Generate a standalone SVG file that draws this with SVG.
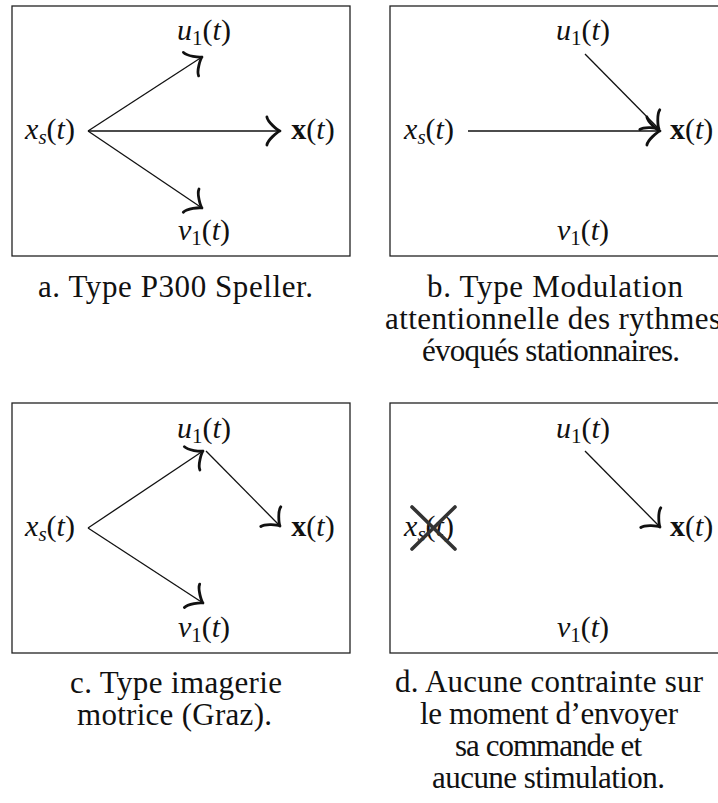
<svg xmlns="http://www.w3.org/2000/svg" width="718" height="803" viewBox="0 0 718 803" font-family="Liberation Serif, Times New Roman, serif">
<style>
.box{fill:none;stroke:#222;stroke-width:1.3}
.m{font-size:30px;fill:#111;text-anchor:middle}
.ms{text-anchor:start}
.i{font-style:italic}
.b{font-weight:bold}
.sub{font-size:21px}
.cap{font-size:31px;fill:#111}
.ln{fill:none;stroke:#111;stroke-width:1.3;marker-end:url(#to)}
.cross{stroke:#333;stroke-width:3.6;stroke-linecap:round}
</style>
<defs>
<marker id="to" markerUnits="userSpaceOnUse" viewBox="-17 -17 34 34" markerWidth="34" markerHeight="34" refX="0" refY="0" orient="auto" overflow="visible">
<path d="M-13.1,14 C-12.2,8.75 -2.6,0.9 0,0 C-2.6,-0.9 -12.2,-8.75 -13.1,-14" fill="none" stroke="#111" stroke-width="2.8" stroke-linecap="round" stroke-linejoin="round"/>
</marker>
</defs>

<g id="panel-a">
<rect class="box" x="12" y="6" width="338" height="250"/>
<g id="a-u1"><text class="m" x="204" y="40"><tspan class="i">u</tspan><tspan class="sub" dy="5">1</tspan><tspan dy="-5">(</tspan><tspan class="i">t</tspan>)</text></g>
<g id="a-xs"><text class="m" x="50" y="139"><tspan class="i">x</tspan><tspan class="sub i" dy="5">s</tspan><tspan dy="-5">(</tspan><tspan class="i">t</tspan>)</text></g>
<g id="a-x"><text class="m" x="313" y="139"><tspan class="b">x</tspan>(<tspan class="i">t</tspan>)</text></g>
<g id="a-v1"><text class="m" x="204" y="240"><tspan class="i">v</tspan><tspan class="sub" dy="5">1</tspan><tspan dy="-5">(</tspan><tspan class="i">t</tspan>)</text></g>
</g>

<g id="panel-b">
<rect class="box" x="390" y="6" width="340" height="250"/>
<g id="b-u1"><text class="m" x="583" y="40"><tspan class="i">u</tspan><tspan class="sub" dy="5">1</tspan><tspan dy="-5">(</tspan><tspan class="i">t</tspan>)</text></g>
<g id="b-xs"><text class="m" x="429" y="139"><tspan class="i">x</tspan><tspan class="sub i" dy="5">s</tspan><tspan dy="-5">(</tspan><tspan class="i">t</tspan>)</text></g>
<g id="b-x"><text class="m ms" x="670" y="139"><tspan class="b">x</tspan>(<tspan class="i">t</tspan>)</text></g>
<g id="b-v1"><text class="m" x="583" y="240"><tspan class="i">v</tspan><tspan class="sub" dy="5">1</tspan><tspan dy="-5">(</tspan><tspan class="i">t</tspan>)</text></g>
</g>

<g id="panel-c">
<rect class="box" x="12" y="403" width="338" height="250"/>
<g id="c-u1"><text class="m" x="204" y="438"><tspan class="i">u</tspan><tspan class="sub" dy="5">1</tspan><tspan dy="-5">(</tspan><tspan class="i">t</tspan>)</text></g>
<g id="c-xs"><text class="m" x="50" y="536"><tspan class="i">x</tspan><tspan class="sub i" dy="5">s</tspan><tspan dy="-5">(</tspan><tspan class="i">t</tspan>)</text></g>
<g id="c-x"><text class="m" x="313" y="536"><tspan class="b">x</tspan>(<tspan class="i">t</tspan>)</text></g>
<g id="c-v1"><text class="m" x="204" y="637"><tspan class="i">v</tspan><tspan class="sub" dy="5">1</tspan><tspan dy="-5">(</tspan><tspan class="i">t</tspan>)</text></g>
</g>

<g id="panel-d">
<rect class="box" x="390" y="403" width="340" height="250"/>
<g id="d-u1"><text class="m" x="583" y="438"><tspan class="i">u</tspan><tspan class="sub" dy="5">1</tspan><tspan dy="-5">(</tspan><tspan class="i">t</tspan>)</text></g>
<g id="d-xs"><text class="m" x="429" y="536"><tspan class="i">x</tspan><tspan class="sub i" dy="5">s</tspan><tspan dy="-5">(</tspan><tspan class="i">t</tspan>)</text>
<line class="cross" x1="412" y1="507" x2="455" y2="549"/>
<line class="cross" x1="455" y1="507" x2="412" y2="549"/>
</g>
<g id="d-x"><text class="m ms" x="670" y="536"><tspan class="b">x</tspan>(<tspan class="i">t</tspan>)</text></g>
<g id="d-v1"><text class="m" x="583" y="637"><tspan class="i">v</tspan><tspan class="sub" dy="5">1</tspan><tspan dy="-5">(</tspan><tspan class="i">t</tspan>)</text></g>
</g>

<g id="connectors">
<line class="ln" x1="88" y1="131" x2="202" y2="57"/>
<line class="ln" x1="88" y1="131" x2="280" y2="131"/>
<line class="ln" x1="88" y1="131" x2="202" y2="208"/>
<line class="ln" x1="468" y1="131" x2="660" y2="131"/>
<line class="ln" x1="585" y1="54" x2="659" y2="129"/>
<line class="ln" x1="88" y1="528" x2="203" y2="451"/>
<line class="ln" x1="206" y1="451" x2="280" y2="526"/>
<line class="ln" x1="88" y1="528" x2="203" y2="603"/>
<line class="ln" x1="585" y1="451" x2="660" y2="527"/>
</g>

<g id="captions">
<text class="cap" x="38" y="297" textLength="275" lengthAdjust="spacing">a. Type P300 Speller.</text>
<text class="cap" x="427" y="297" textLength="256" lengthAdjust="spacing">b. Type Modulation</text>
<text class="cap" x="385" y="329" textLength="336" lengthAdjust="spacing">attentionnelle des rythmes</text>
<text class="cap" x="422" y="361" textLength="258" lengthAdjust="spacing">évoqués stationnaires.</text>
<text class="cap" x="70" y="693" textLength="212" lengthAdjust="spacing">c. Type imagerie</text>
<text class="cap" x="77" y="725" textLength="195" lengthAdjust="spacing">motrice (Graz).</text>
<text class="cap" x="395" y="692" textLength="308" lengthAdjust="spacing">d. Aucune contrainte sur</text>
<text class="cap" x="420" y="724" textLength="258" lengthAdjust="spacing">le moment d’envoyer</text>
<text class="cap" x="455" y="756" textLength="187" lengthAdjust="spacing">sa commande et</text>
<text class="cap" x="432" y="788" textLength="233" lengthAdjust="spacing">aucune stimulation.</text>
</g>
</svg>
